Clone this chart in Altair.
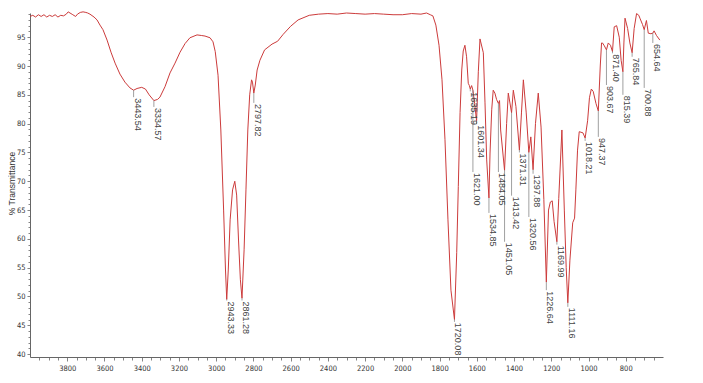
import altair as alt
import pandas as pd

# ---- spectrum (wavenumber cm-1, % transmittance) ----
wavenumber = [
    4000, 3985, 3970, 3955, 3940, 3925, 3910, 3895, 3880, 3865, 3850, 3835, 3820, 3805,
    3795, 3785, 3770, 3755, 3745, 3730, 3715, 3700, 3690, 3678, 3656, 3640, 3624, 3608,
    3586, 3565, 3543, 3517, 3490, 3463, 3443.5, 3425, 3400, 3380, 3360, 3334.6, 3315,
    3302, 3275, 3248, 3221, 3194, 3167, 3141, 3103, 3080, 3060, 3033, 3017, 3005, 2990,
    2975, 2960, 2950, 2943.3, 2935, 2925, 2912, 2900, 2890, 2880, 2870, 2861.3, 2850,
    2840, 2830, 2820, 2810, 2805, 2797.8, 2790, 2780, 2765, 2740, 2700, 2670, 2640, 2600,
    2560, 2500, 2450, 2400, 2350, 2300, 2250, 2200, 2150, 2100, 2050, 2000, 1950, 1900,
    1870, 1850, 1836, 1820, 1803, 1787, 1771, 1755, 1739, 1720.1, 1708, 1699.5, 1690,
    1681, 1673, 1664, 1655, 1646, 1640, 1635.2, 1628, 1621, 1612, 1601.3, 1592, 1583,
    1565, 1556, 1547, 1534.9, 1529, 1520, 1512, 1503, 1494, 1484.1, 1478, 1472, 1451.1,
    1440, 1431, 1413.4, 1404, 1390, 1371.3, 1360, 1350, 1335, 1320.6, 1310, 1297.9, 1285,
    1270, 1255, 1240, 1226.6, 1215, 1205, 1195, 1185, 1170, 1160, 1143, 1130, 1120,
    1111.2, 1100, 1085, 1075, 1068, 1059, 1050, 1030, 1018.2, 1005, 995, 985, 975, 960,
    947.4, 937, 930, 925, 915, 903.7, 894, 882, 871.4, 862, 849, 835, 825, 815.4, 810,
    804, 790, 778, 765.8, 755, 742, 730, 724, 710, 700.9, 689, 679, 665, 654.6, 648, 635,
    617,
]
transmittance = [
    98.6, 98.8, 98.5, 98.9, 98.6, 98.9, 98.5, 98.8, 98.6, 98.9, 98.5, 98.8, 98.7, 99.0,
    99.4, 99.2, 98.9, 98.6, 99.0, 99.3, 99.4, 99.3, 99.2, 99.0, 98.5, 98.0, 97.1, 96.3,
    94.5, 92.4, 90.5, 88.6, 87.2, 86.2, 85.8, 86.1, 86.3, 86.0, 85.0, 84.0, 84.2,
    84.6, 86.4, 88.8, 90.5, 92.4, 93.9, 94.9, 95.4, 95.3, 95.2, 94.9, 94.2, 92.5, 88.4,
    78.9, 65.0, 54.6, 49.5, 54.6, 63.3, 68.5, 70.0, 67.6, 59.8, 52.9, 49.7, 58.1,
    68.5, 78.9, 85.0, 87.6, 87.2, 85.3, 86.7, 89.3, 91.0, 92.8, 93.8, 94.3, 95.5, 96.9,
    98.0, 98.8, 99.0, 99.1, 99.0, 99.2, 99.1, 99.0, 99.1, 99.0, 98.9, 98.9, 99.1, 99.0,
    99.2, 98.9, 98.7, 97.1, 93.6, 87.6, 77.2, 63.3, 51.1, 46.0, 57.6, 69.1, 81.9,
    89.3, 92.6, 93.6, 91.6, 87.0, 86.6, 86.0, 86.6, 85.8, 83.5, 80.5, 89.0, 94.7,
    92.3, 83.6, 73.7, 67.1, 74.9, 82.4, 85.8, 85.3, 84.2, 83.5, 84.0, 78.9, 71.9,
    80.0, 85.3, 81.9, 85.8, 83.0, 75.4, 82.0, 87.6, 82.0, 75.0, 77.7, 72.0, 80.0,
    85.3, 79.4, 66.8, 52.5, 65.0, 66.4, 66.6, 63.0, 59.5, 67.0, 78.9, 65.0, 55.0,
    48.9, 56.3, 62.8, 63.6, 68.5, 75.4, 78.6, 78.4, 77.5, 80.5, 84.5, 86.0, 85.6, 83.5,
    82.2, 90.0, 94.0, 94.0, 93.5, 92.8, 94.0, 93.6, 92.5, 96.8, 97.0, 95.0, 91.0, 89.0, 94.0,
    98.3, 96.5, 94.0, 92.3, 96.5, 99.1, 98.8, 98.3, 97.2, 96.3, 97.9, 95.7, 95.6, 95.7, 96.1, 95.3,
    94.5,
]

# ---- peak annotations ----
peak_wn = [3443.54, 3334.57, 2943.33, 2861.28, 2797.82, 1720.08, 1635.19, 1621.00,
           1601.34, 1534.85, 1484.05, 1451.05, 1413.42, 1371.31, 1320.56, 1297.88,
           1226.64, 1169.99, 1111.16, 1018.21, 947.37, 903.67, 871.40, 815.39,
           765.84, 700.88, 654.64]
peak_text = ["3443.54", "3334.57", "2943.33", "2861.28", "2797.82", "1720.08", "1635.19",
             "1621.00", "1601.34", "1534.85", "1484.05", "1451.05", "1413.42", "1371.31",
             "1320.56", "1297.88", "1226.64", "1169.99", "1111.16", "1018.21", "947.37",
             "903.67", "871.40", "815.39", "765.84", "700.88", "654.64"]
peak_T = [85.8, 84.0, 49.5, 49.7, 85.3, 46.0, 86.0, 85.8, 80.5, 67.1, 83.5, 71.9, 81.9,
          75.4, 75.0, 72.0, 52.5, 59.5, 48.9, 77.5, 82.2, 92.8, 92.5, 89.0, 92.3, 96.3, 95.7]
label_T = [84.6, 82.9, 49.3, 49.3, 83.6, 45.6, 85.6, 71.6, 79.9, 64.5, 71.6, 59.5, 67.5,
           75.0, 63.8, 71.3, 51.1, 59.0, 48.2, 77.0, 77.7, 86.7, 92.2, 85.0, 91.6, 86.2, 94.0]

x_ticks = list(range(650, 4000, 50))
y_ticks = list(range(40, 100, 1))

curve = pd.DataFrame({"w": wavenumber, "T": transmittance})
peaks = pd.DataFrame({"w": peak_wn, "label": peak_text, "Tp": peak_T, "T": label_T})

AXFONT = "Liberation Sans Narrow, DejaVu Sans Condensed, Liberation Sans, sans-serif"

x_enc = alt.X(
    "w:Q",
    scale=alt.Scale(domain=[600, 4000], reverse=True, nice=False, zero=False),
    axis=alt.Axis(
        title=None,
        values=x_ticks,
        labelExpr="datum.value % 200 == 0 ? '' + datum.value : ''",
        tickSize={"condition": {"test": "datum.value % 200 == 0", "value": 4}, "value": 3},
        labelFont=AXFONT, labelFontSize=7.5, labelColor="#333", labelPadding=3,
        labelOverlap=False, labelFlush=False, grid=False,
        domainColor="#666", tickColor="#666", tickWidth=0.8, domainWidth=1,
    ),
)
y_enc = alt.Y(
    "T:Q",
    scale=alt.Scale(domain=[39.5, 99.2], nice=False, zero=False),
    axis=alt.Axis(
        title="% Transmittance",
        values=y_ticks,
        labelExpr="datum.value % 5 == 0 ? '' + datum.value : ''",
        tickSize={"condition": {"test": "datum.value % 5 == 0", "value": 3}, "value": 2},
        labelFont=AXFONT, labelFontSize=7.5, labelColor="#333", labelPadding=2,
        labelOverlap=False, labelFlush=False, grid=False,
        domainColor="#666", tickColor="#666", tickWidth=0.8, domainWidth=1,
        titleX=-19, titleY=170, titleAngle=-90, titleBaseline="middle", titleAlign="center",
        titleFont="Liberation Sans, Arial, sans-serif", titleFontSize=8.5,
        titleFontWeight="normal", titleColor="#333",
    ),
)

line = alt.Chart(curve).mark_line(color="#cc3b3b", strokeWidth=1, clip=False).encode(
    x=x_enc, y=y_enc
)
rules = alt.Chart(peaks).mark_rule(color="#777", strokeWidth=0.7).encode(
    x=x_enc, y=y_enc, y2="Tp:Q"
)
labels = alt.Chart(peaks).mark_text(
    angle=90, align="left", baseline="middle", dx=1, dy=-4,
    font="Liberation Sans, Arial, sans-serif", fontSize=9, color="#444",
).encode(x=x_enc, y=y_enc, text="label:N")

chart = alt.layer(line, rules, labels).properties(
    width=633, height=344, autosize="none",
    padding={"left": 22, "top": 5, "right": 32, "bottom": 18},
    background="white",
).configure_view(stroke=None)

chart.save("out.html", embed_options={"renderer": "svg", "actions": False})
